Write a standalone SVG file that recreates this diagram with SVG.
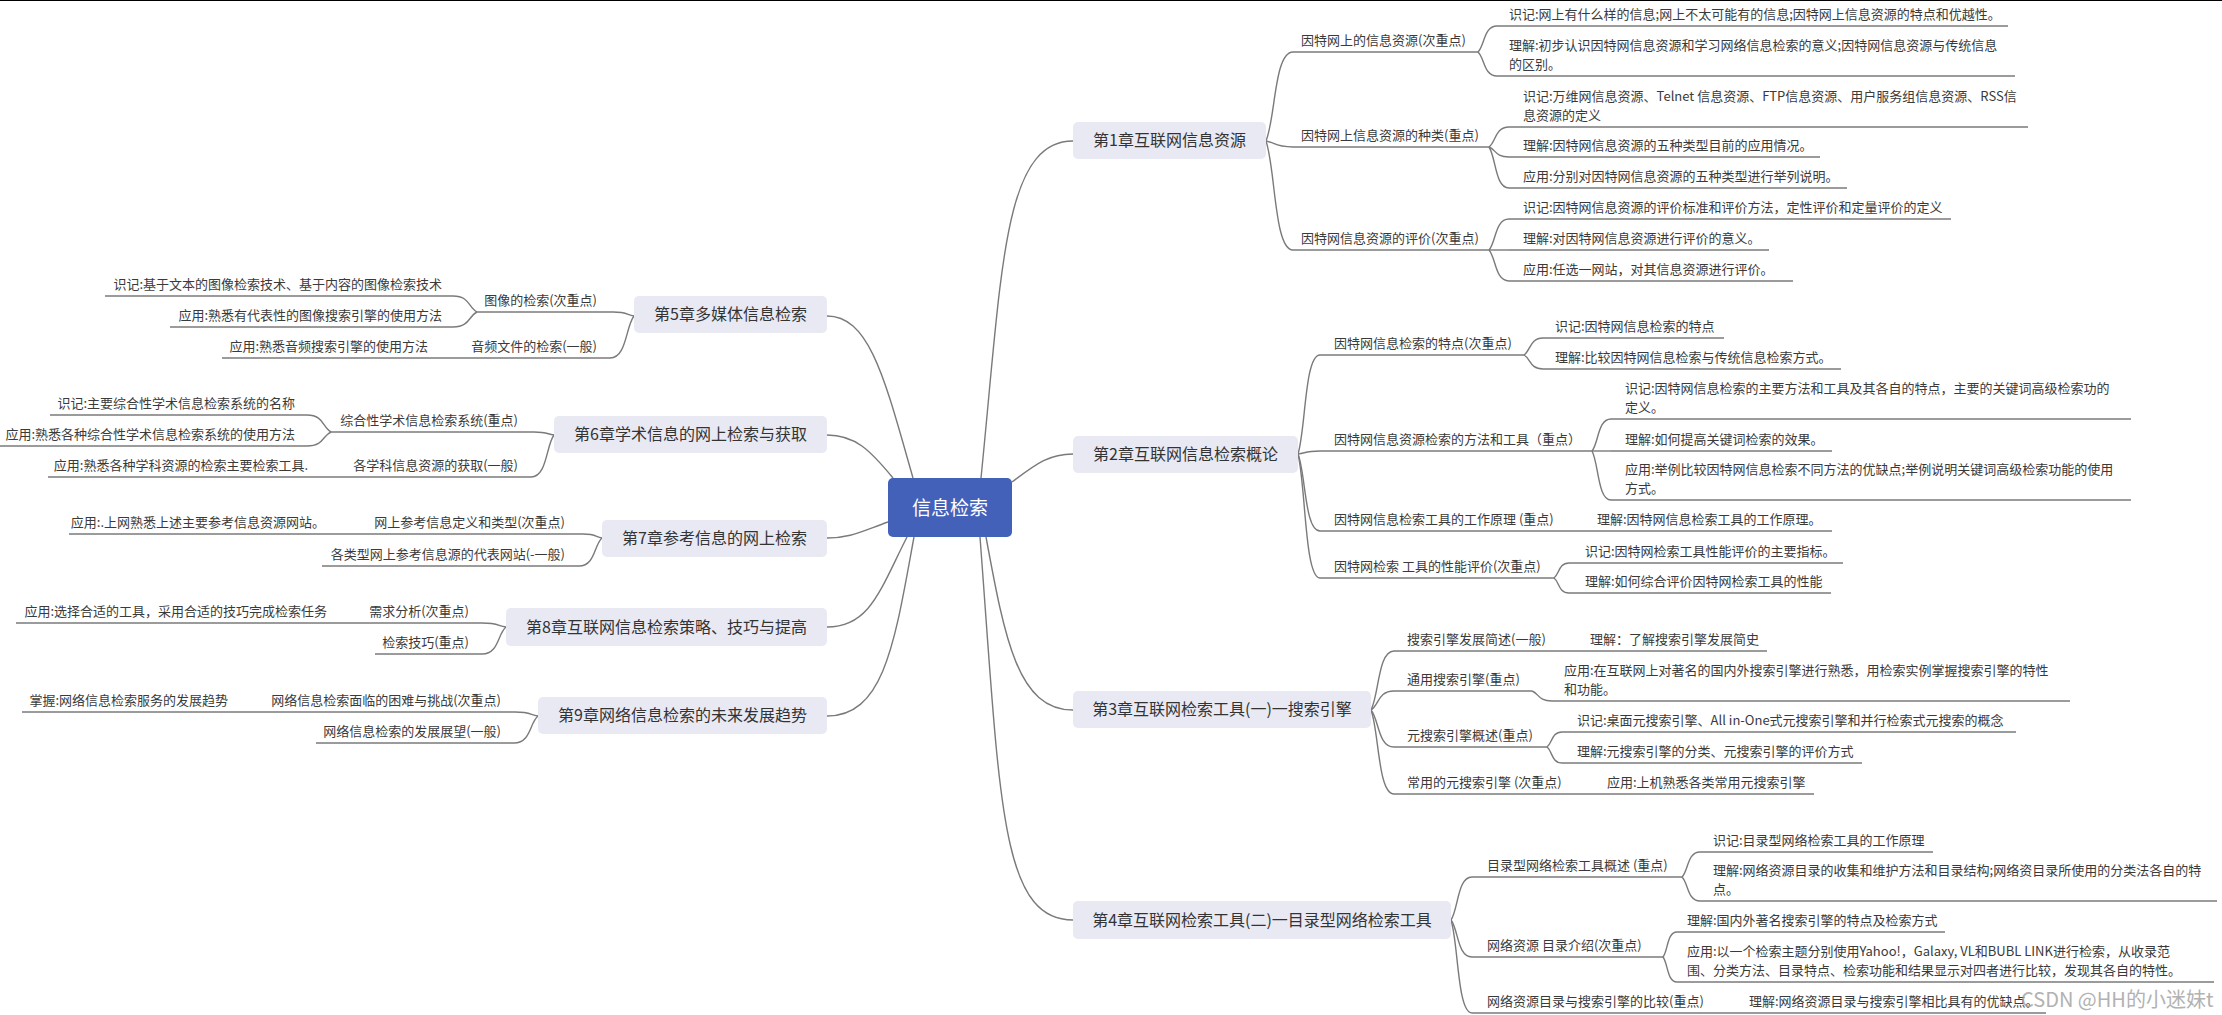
<svg xmlns="http://www.w3.org/2000/svg" width="2222" height="1015" viewBox="0 0 2222 1015">
<style>
.ln{stroke:#7a7a7a;stroke-width:1.4;fill:none}
.ul{stroke:#7a7a7a;stroke-width:1.4}
text{font-family:"Noto Sans CJK SC","Noto Sans",sans-serif;fill:#3a3a3a}
.t{font-size:13px}
.e{text-anchor:end}
.chb{fill:#e8e9f3}
.cht{font-size:16px;text-anchor:middle;fill:#333}
.wm{font-size:20px;fill:#a0a0a0;opacity:0.8}
</style>
<rect x="0" y="0" width="2222" height="1015" fill="#ffffff"/>
<rect x="0" y="0" width="2222" height="1" fill="#000000"/>
<g id="connectors">
<path class="ln" d="M981 478 C1002 270 1003 141 1073 141"/>
<path class="ln" d="M1012 482 C1035 465 1048 454 1073 454"/>
<path class="ln" d="M986 537 C1005 640 1018 710 1073 710"/>
<path class="ln" d="M980 537 C1000 800 1000 920 1073 920"/>
<path class="ln" d="M913 478 C885 380 870 316 827 316"/>
<path class="ln" d="M893 478 C870 450 855 435 827 435"/>
<path class="ln" d="M888 522 C860 532 850 538 827 538"/>
<path class="ln" d="M907 537 C880 590 870 627 827 627"/>
<path class="ln" d="M914 537 C895 640 885 716 827 716"/>
<path class="ln" d="M1266 141 C1275.5 118.8 1274.1 52 1293 52"/>
<path class="ln" d="M1266 141 C1275.5 142.5 1274.1 147 1293 147"/>
<path class="ln" d="M1266 141 C1275.5 168.3 1274.1 250 1293 250"/>
<path class="ln" d="M1478 52 C1484.7 45.5 1483.7 26 1497 26"/>
<path class="ln" d="M1478 52 C1484.7 58 1483.7 76 1497 76"/>
<path class="ln" d="M1489 147 C1496 142 1495 127 1509 127"/>
<path class="ln" d="M1489 147 C1496 149.5 1495 157 1509 157"/>
<path class="ln" d="M1489 147 C1496 157.3 1495 188 1509 188"/>
<path class="ln" d="M1489 250 C1496 242.3 1495 219 1509 219"/>
<path class="ln" d="M1489 250 L1509 250"/>
<path class="ln" d="M1489 250 C1496 257.8 1495 281 1509 281"/>
<path class="ln" d="M1298 454 C1305.7 429.3 1304.6 355 1320 355"/>
<path class="ln" d="M1298 454 C1305.7 453.3 1304.6 451 1320 451"/>
<path class="ln" d="M1298 454 C1305.7 473.3 1304.6 531 1320 531"/>
<path class="ln" d="M1298 454 C1305.7 485 1304.6 578 1320 578"/>
<path class="ln" d="M1524 355 C1530.7 350.8 1529.7 338 1543 338"/>
<path class="ln" d="M1524 355 C1530.7 358.5 1529.7 369 1543 369"/>
<path class="ln" d="M1592 451 C1598.7 443 1597.7 419 1611 419"/>
<path class="ln" d="M1592 451 L1611 451"/>
<path class="ln" d="M1592 451 C1598.7 463.3 1597.7 500 1611 500"/>
<path class="ln" d="M1554 578 C1559.3 574.3 1558.5 563 1569 563"/>
<path class="ln" d="M1554 578 C1559.3 581.8 1558.5 593 1569 593"/>
<path class="ln" d="M1371 710 C1379 695.3 1377.9 651 1394 651"/>
<path class="ln" d="M1371 710 C1379 705.3 1377.9 691 1394 691"/>
<path class="ln" d="M1371 710 C1379 719.3 1377.9 747 1394 747"/>
<path class="ln" d="M1371 710 C1379 731 1377.9 794 1394 794"/>
<path class="ln" d="M1532 691 C1539 693.5 1538 701 1552 701"/>
<path class="ln" d="M1547 747 C1552.3 743.3 1551.5 732 1562 732"/>
<path class="ln" d="M1547 747 C1552.3 751 1551.5 763 1562 763"/>
<path class="ln" d="M1451 920 C1458.4 909.3 1457.3 877 1472 877"/>
<path class="ln" d="M1451 920 C1458.4 929.3 1457.3 957 1472 957"/>
<path class="ln" d="M1451 920 C1458.4 943.3 1457.3 1013 1472 1013"/>
<path class="ln" d="M1682 877 C1688.3 870.8 1687.4 852 1700 852"/>
<path class="ln" d="M1682 877 C1688.3 883 1687.4 901 1700 901"/>
<path class="ln" d="M1663 957 C1668 950.8 1667 932 1677 932"/>
<path class="ln" d="M1663 957 C1668 963.3 1667 982 1677 982"/>
<path class="ln" d="M634 316 C626.7 315 627.7 312 613 312"/>
<path class="ln" d="M634 316 C625.6 326.5 626.8 358 610 358"/>
<path class="ln" d="M477 312 C468.6 308 469.8 296 453 296"/>
<path class="ln" d="M477 312 C468.6 315.8 469.8 327 453 327"/>
<path class="ln" d="M554 435 C547 434.3 548 432 534 432"/>
<path class="ln" d="M554 435 C546 445.5 547.1 477 531 477"/>
<path class="ln" d="M331 432 C322.6 427.8 323.8 415 307 415"/>
<path class="ln" d="M331 432 C322.6 435.5 323.8 446 307 446"/>
<path class="ln" d="M602 538 C595.4 537 596.3 534 583 534"/>
<path class="ln" d="M602 538 C594 545 595.1 566 579 566"/>
<path class="ln" d="M506 627 C497.6 626 498.8 623 482 623"/>
<path class="ln" d="M506 627 C497.6 633.8 498.8 654 482 654"/>
<path class="ln" d="M538 716 C530 715 531.1 712 515 712"/>
<path class="ln" d="M538 716 C529.6 722.8 530.8 743 514 743"/>
</g>
<g id="root">
<rect x="888" y="478" width="124" height="59" rx="5" fill="#4461b9"/>
<text x="950" y="515" style="font-size:19px;text-anchor:middle;fill:#ffffff">信息检索</text>
</g>
<g id="ch1"><rect class="chb" x="1073" y="122" width="193" height="37" rx="5"/><text class="cht" x="1169.5" y="146">第1章互联网信息资源</text></g>
<g id="ch2"><rect class="chb" x="1073" y="436" width="225" height="37" rx="5"/><text class="cht" x="1185.5" y="460">第2章互联网信息检索概论</text></g>
<g id="ch3"><rect class="chb" x="1073" y="691" width="298" height="37" rx="5"/><text class="cht" x="1222" y="715">第3章互联网检索工具(一)一搜索引擎</text></g>
<g id="ch4"><rect class="chb" x="1073" y="901" width="378" height="38" rx="5"/><text class="cht" x="1262" y="926">第4章互联网检索工具(二)一目录型网络检索工具</text></g>
<g id="ch5"><rect class="chb" x="634" y="296" width="193" height="37" rx="5"/><text class="cht" x="730.5" y="320">第5章多媒体信息检索</text></g>
<g id="ch6"><rect class="chb" x="554" y="416" width="273" height="37" rx="5"/><text class="cht" x="690.5" y="440">第6章学术信息的网上检索与获取</text></g>
<g id="ch7"><rect class="chb" x="602" y="520" width="225" height="37" rx="5"/><text class="cht" x="714.5" y="544">第7章参考信息的网上检索</text></g>
<g id="ch8"><rect class="chb" x="506" y="608" width="321" height="38" rx="5"/><text class="cht" x="666.5" y="633">第8章互联网信息检索策略、技巧与提高</text></g>
<g id="ch9"><rect class="chb" x="538" y="697" width="289" height="37" rx="5"/><text class="cht" x="682.5" y="721">第9章网络信息检索的未来发展趋势</text></g>
<g id="s1-1"><text class="t" x="1301" y="45">因特网上的信息资源(次重点)</text><line class="ul" x1="1293" y1="52" x2="1478" y2="52"/></g>
<g id="s1-1-a"><text class="t" x="1509" y="19">识记:网上有什么样的信息;网上不太可能有的信息;因特网上信息资源的特点和优越性。</text><line class="ul" x1="1497" y1="26" x2="2008" y2="26"/></g>
<g id="s1-1-b"><text class="t" x="1509" y="50">理解:初步认识因特网信息资源和学习网络信息检索的意义;因特网信息资源与传统信息</text><text class="t" x="1509" y="69">的区别。</text><line class="ul" x1="1497" y1="76" x2="2015" y2="76"/></g>
<g id="s1-2"><text class="t" x="1301" y="140">因特网上信息资源的种类(重点)</text><line class="ul" x1="1293" y1="147" x2="1489" y2="147"/></g>
<g id="s1-2-a"><text class="t" x="1523" y="101">识记:万维网信息资源、Telnet 信息资源、FTP信息资源、用户服务组信息资源、RSS信</text><text class="t" x="1523" y="120">息资源的定义</text><line class="ul" x1="1509" y1="127" x2="2028" y2="127"/></g>
<g id="s1-2-b"><text class="t" x="1523" y="150">理解:因特网信息资源的五种类型目前的应用情况。</text><line class="ul" x1="1509" y1="157" x2="1820" y2="157"/></g>
<g id="s1-2-c"><text class="t" x="1523" y="181">应用:分别对因特网信息资源的五种类型进行举列说明。</text><line class="ul" x1="1509" y1="188" x2="1847" y2="188"/></g>
<g id="s1-3"><text class="t" x="1301" y="243">因特网信息资源的评价(次重点)</text><line class="ul" x1="1293" y1="250" x2="1489" y2="250"/></g>
<g id="s1-3-a"><text class="t" x="1523" y="212">识记:因特网信息资源的评价标准和评价方法，定性评价和定量评价的定义</text><line class="ul" x1="1509" y1="219" x2="1951" y2="219"/></g>
<g id="s1-3-b"><text class="t" x="1523" y="243">理解:对因特网信息资源进行评价的意义。</text><line class="ul" x1="1509" y1="250" x2="1769" y2="250"/></g>
<g id="s1-3-c"><text class="t" x="1523" y="274">应用:任选一网站，对其信息资源进行评价。</text><line class="ul" x1="1509" y1="281" x2="1793" y2="281"/></g>
<g id="s2-1"><text class="t" x="1334" y="348">因特网信息检索的特点(次重点)</text><line class="ul" x1="1320" y1="355" x2="1524" y2="355"/></g>
<g id="s2-1-a"><text class="t" x="1555" y="331">识记:因特网信息检索的特点</text><line class="ul" x1="1543" y1="338" x2="1724" y2="338"/></g>
<g id="s2-1-b"><text class="t" x="1555" y="362">理解:比较因特网信息检索与传统信息检索方式。</text><line class="ul" x1="1543" y1="369" x2="1841" y2="369"/></g>
<g id="s2-2"><text class="t" x="1334" y="444">因特网信息资源检索的方法和工具（重点）</text><line class="ul" x1="1320" y1="451" x2="1592" y2="451"/></g>
<g id="s2-2-a"><text class="t" x="1625" y="393">识记:因特网信息检索的主要方法和工具及其各自的特点，主要的关键词高级检索功的</text><text class="t" x="1625" y="412">定义。</text><line class="ul" x1="1611" y1="419" x2="2131" y2="419"/></g>
<g id="s2-2-b"><text class="t" x="1625" y="444">理解:如何提高关键词检索的效果。</text><line class="ul" x1="1611" y1="451" x2="1832" y2="451"/></g>
<g id="s2-2-c"><text class="t" x="1625" y="474">应用:举例比较因特网信息检索不同方法的优缺点;举例说明关键词高级检索功能的使用</text><text class="t" x="1625" y="493">方式。</text><line class="ul" x1="1611" y1="500" x2="2131" y2="500"/></g>
<g id="s2-3"><text class="t" x="1334" y="524">因特网信息检索工具的工作原理 (重点)</text><line class="ul" x1="1320" y1="531" x2="1580" y2="531"/></g>
<g id="s2-3-a"><text class="t" x="1597" y="524">理解:因特网信息检索工具的工作原理。</text><line class="ul" x1="1580" y1="531" x2="1832" y2="531"/></g>
<g id="s2-4"><text class="t" x="1334" y="571">因特网检索 工具的性能评价(次重点)</text><line class="ul" x1="1320" y1="578" x2="1554" y2="578"/></g>
<g id="s2-4-a"><text class="t" x="1585" y="556">识记:因特网检索工具性能评价的主要指标。</text><line class="ul" x1="1569" y1="563" x2="1843" y2="563"/></g>
<g id="s2-4-b"><text class="t" x="1585" y="586">理解:如何综合评价因特网检索工具的性能</text><line class="ul" x1="1569" y1="593" x2="1831" y2="593"/></g>
<g id="s3-1"><text class="t" x="1407" y="644">搜索引擎发展简述(一般)</text><line class="ul" x1="1394" y1="651" x2="1575" y2="651"/></g>
<g id="s3-1-a"><text class="t" x="1590" y="644">理解：了解搜索引擎发展简史</text><line class="ul" x1="1575" y1="651" x2="1767" y2="651"/></g>
<g id="s3-2"><text class="t" x="1407" y="684">通用搜索引擎(重点)</text><line class="ul" x1="1394" y1="691" x2="1532" y2="691"/></g>
<g id="s3-2-a"><text class="t" x="1564" y="675">应用:在互联网上对著名的国内外搜索引擎进行熟悉，用检索实例掌握搜索引擎的特性</text><text class="t" x="1564" y="694">和功能。</text><line class="ul" x1="1552" y1="701" x2="2070" y2="701"/></g>
<g id="s3-3"><text class="t" x="1407" y="740">元搜索引擎概述(重点)</text><line class="ul" x1="1394" y1="747" x2="1547" y2="747"/></g>
<g id="s3-3-a"><text class="t" x="1577" y="725">识记:桌面元搜索引擎、All in-One式元搜索引擎和并行检索式元搜索的概念</text><line class="ul" x1="1562" y1="732" x2="2016" y2="732"/></g>
<g id="s3-3-b"><text class="t" x="1577" y="756">理解:元搜索引擎的分类、元搜索引擎的评价方式</text><line class="ul" x1="1562" y1="763" x2="1862" y2="763"/></g>
<g id="s3-4"><text class="t" x="1407" y="787">常用的元搜索引擎 (次重点)</text><line class="ul" x1="1394" y1="794" x2="1592" y2="794"/></g>
<g id="s3-4-a"><text class="t" x="1607" y="787">应用:上机熟悉各类常用元搜索引擎</text><line class="ul" x1="1592" y1="794" x2="1814" y2="794"/></g>
<g id="s4-1"><text class="t" x="1487" y="870">目录型网络检索工具概述 (重点)</text><line class="ul" x1="1472" y1="877" x2="1682" y2="877"/></g>
<g id="s4-1-a"><text class="t" x="1713" y="845">识记:目录型网络检索工具的工作原理</text><line class="ul" x1="1700" y1="852" x2="1933" y2="852"/></g>
<g id="s4-1-b"><text class="t" x="1713" y="875">理解:网络资源目录的收集和维护方法和目录结构;网络资目录所使用的分类法各自的特</text><text class="t" x="1713" y="894">点。</text><line class="ul" x1="1700" y1="901" x2="2217" y2="901"/></g>
<g id="s4-2"><text class="t" x="1487" y="950">网络资源 目录介绍(次重点)</text><line class="ul" x1="1472" y1="957" x2="1663" y2="957"/></g>
<g id="s4-2-a"><text class="t" x="1687" y="925">理解:国内外著名搜索引擎的特点及检索方式</text><line class="ul" x1="1677" y1="932" x2="1945" y2="932"/></g>
<g id="s4-2-b"><text class="t" x="1687" y="956">应用:以一个检索主题分别使用Yahoo!，Galaxy, VL和BUBL LINK进行检索，从收录范</text><text class="t" x="1687" y="975">围、分类方法、目录特点、检索功能和结果显示对四者进行比较，发现其各自的特性。</text><line class="ul" x1="1677" y1="982" x2="2214" y2="982"/></g>
<g id="s4-3"><text class="t" x="1487" y="1006">网络资源目录与搜索引擎的比较(重点)</text><line class="ul" x1="1472" y1="1013" x2="1735" y2="1013"/></g>
<g id="s4-3-a"><text class="t" x="1749" y="1006">理解:网络资源目录与搜索引擎相比具有的优缺点。</text><line class="ul" x1="1735" y1="1013" x2="2046" y2="1013"/></g>
<g id="s5-1"><text class="t e" x="597" y="305">图像的检索(次重点)</text><line class="ul" x1="613" y1="312" x2="477" y2="312"/></g>
<g id="s5-1-a"><text class="t e" x="442" y="289">识记:基于文本的图像检索技术、基于内容的图像检索技术</text><line class="ul" x1="453" y1="296" x2="105" y2="296"/></g>
<g id="s5-1-b"><text class="t e" x="442" y="320">应用:熟悉有代表性的图像搜索引擎的使用方法</text><line class="ul" x1="453" y1="327" x2="170" y2="327"/></g>
<g id="s5-2"><text class="t e" x="597" y="351">音频文件的检索(一般)</text><line class="ul" x1="610" y1="358" x2="440" y2="358"/></g>
<g id="s5-2-a"><text class="t e" x="428" y="351">应用:熟悉音频搜索引擎的使用方法</text><line class="ul" x1="440" y1="358" x2="222" y2="358"/></g>
<g id="s6-1"><text class="t e" x="518" y="425">综合性学术信息检索系统(重点)</text><line class="ul" x1="534" y1="432" x2="331" y2="432"/></g>
<g id="s6-1-a"><text class="t e" x="295" y="408">识记:主要综合性学术信息检索系统的名称</text><line class="ul" x1="307" y1="415" x2="50" y2="415"/></g>
<g id="s6-1-b"><text class="t e" x="295" y="439">应用:熟悉各种综合性学术信息检索系统的使用方法</text><line class="ul" x1="307" y1="446" x2="0" y2="446"/></g>
<g id="s6-2"><text class="t e" x="518" y="470">各学科信息资源的获取(一般)</text><line class="ul" x1="531" y1="477" x2="330" y2="477"/></g>
<g id="s6-2-a"><text class="t e" x="308" y="470">应用:熟悉各种学科资源的检索主要检索工具.</text><line class="ul" x1="330" y1="477" x2="48" y2="477"/></g>
<g id="s7-1"><text class="t e" x="565" y="527">网上参考信息定义和类型(次重点)</text><line class="ul" x1="583" y1="534" x2="350" y2="534"/></g>
<g id="s7-1-a"><text class="t e" x="325" y="527">应用:.上网熟悉上述主要参考信息资源网站。</text><line class="ul" x1="350" y1="534" x2="69" y2="534"/></g>
<g id="s7-2"><text class="t e" x="565" y="559">各类型网上参考信息源的代表网站(-一般)</text><line class="ul" x1="579" y1="566" x2="322" y2="566"/></g>
<g id="s8-1"><text class="t e" x="469" y="616">需求分析(次重点)</text><line class="ul" x1="482" y1="623" x2="350" y2="623"/></g>
<g id="s8-1-a"><text class="t e" x="327" y="616">应用:选择合适的工具，采用合适的技巧完成检索任务</text><line class="ul" x1="350" y1="623" x2="16" y2="623"/></g>
<g id="s8-2"><text class="t e" x="469" y="647">检索技巧(重点)</text><line class="ul" x1="482" y1="654" x2="375" y2="654"/></g>
<g id="s9-1"><text class="t e" x="501" y="705">网络信息检索面临的困难与挑战(次重点)</text><line class="ul" x1="515" y1="712" x2="250" y2="712"/></g>
<g id="s9-1-a"><text class="t e" x="228" y="705">掌握:网络信息检索服务的发展趋势</text><line class="ul" x1="250" y1="712" x2="22" y2="712"/></g>
<g id="s9-2"><text class="t e" x="501" y="736">网络信息检索的发展展望(一般)</text><line class="ul" x1="514" y1="743" x2="316" y2="743"/></g>
<g id="watermark"><text class="wm" x="2021" y="1007">CSDN @HH的小迷妹t</text></g>
</svg>
